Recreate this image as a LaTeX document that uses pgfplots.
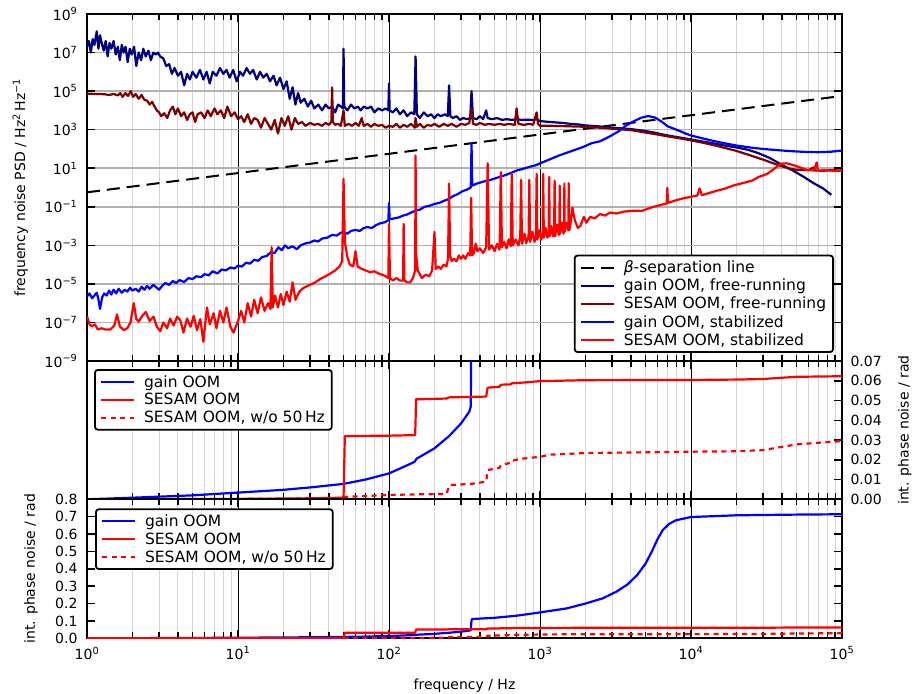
\documentclass[border=0pt]{standalone}
\usepackage{fontspec}
\setmainfont{DejaVu Sans}
\usepackage{pgfplots}
\usepackage{pgfplotstable}
\pgfplotsset{compat=1.18}

\definecolor{navyc}{RGB}{0,0,128}
\definecolor{maroonc}{RGB}{128,0,0}
\definecolor{gridminor}{RGB}{214,214,214}
\definecolor{gridy}{RGB}{176,176,176}
\newcommand{\tkf}{\fontsize{14bp}{16bp}\selectfont}
\newcommand{\lgf}{\fontsize{15.5bp}{18bp}\selectfont}

\pgfplotstableread{
f v
1 0.0
2 0.0008
5 0.002
10 0.0034
20 0.0048
30 0.006
50 0.0078
70 0.010
100 0.0131
130 0.017
148 0.019
152 0.0205
200 0.0258
250 0.032
300 0.0384
340 0.0443
348 0.047
352 0.105
356 0.111
500 0.118
700 0.13
1000 0.149
1500 0.172
2000 0.20
2600 0.23
3200 0.268
3800 0.31
4400 0.364
5000 0.43
5500 0.499
6000 0.57
6500 0.623
7200 0.66
8000 0.68
10000 0.698
20000 0.708
50000 0.712
100000 0.714
}\gainint

\pgfplotstableread{
f v
1 0.0
10 0.0002
30 0.0005
49 0.0008
50 0.0012
51 0.032
100 0.0322
149 0.0325
150 0.040
151 0.0506
240 0.051
250 0.0516
440 0.052
450 0.0565
540 0.057
550 0.058
640 0.0582
650 0.0587
750 0.059
1000 0.0598
2000 0.0603
10000 0.0604
20000 0.0606
30000 0.0609
50000 0.062
100000 0.0623
}\sesamint

\pgfplotstableread{
f v
1 0.0
10 0.0002
49 0.0005
51 0.0012
100 0.0022
150 0.0025
240 0.0027
252 0.0072
350 0.0078
440 0.0089
450 0.0148
540 0.016
550 0.0173
640 0.0185
650 0.0195
750 0.0205
1000 0.0215
1170 0.0226
2000 0.0234
10000 0.0241
20000 0.0243
30000 0.0249
50000 0.0278
100000 0.0295
}\sesamintwo

\begin{document}
\begin{tikzpicture}
\useasboundingbox (0,0) rectangle (912bp,-694bp);

% ---------------- top panel ----------------
\begin{axis}[
  scale only axis, width=755bp, height=347bp,
  at={(87bp,-14bp)}, anchor=north west,
  xmode=log, xmin=1, xmax=100000,
  xtick={1,10,100,1000,10000,100000},
  minor xtick={2,3,4,5,6,7,8,9,20,30,40,50,60,70,80,90,200,300,400,500,600,700,800,900,2000,3000,4000,5000,6000,7000,8000,9000,20000,30000,40000,50000,60000,70000,80000,90000},
  xticklabels={},
  xmajorgrids=true, xminorgrids=true,
  major x grid style={black, line width=0.9bp},
  minor x grid style={gridminor, line width=1bp},
  axis line style={line width=2bp},
  tick align=inside,
  major tick length=8bp, minor tick length=6bp,
  major tick style={black, line width=1.5bp},
  minor tick style={black, line width=1.2bp},
  tick label style={font=\tkf},
  yticklabel style={xshift=-6bp},
  ymode=log, ymin=1e-9, ymax=1e9,
  ytick={1e-9,1e-7,1e-5,1e-3,1e-1,1e1,1e3,1e5,1e7,1e9},
  yticklabels={10\textsuperscript{−9},10\textsuperscript{−7},10\textsuperscript{−5},10\textsuperscript{−3},10\textsuperscript{−1},10\textsuperscript{1},10\textsuperscript{3},10\textsuperscript{5},10\textsuperscript{7},10\textsuperscript{9}},
  yminorticks=false,
  ymajorgrids=true,
  major y grid style={gridy, line width=1.5bp},
  ylabel={frequency noise PSD / Hz\textsuperscript{2}\,Hz\textsuperscript{−1}},
  ylabel style={font=\tkf, at={(axis description cs:-0.0821,0.5)}, anchor=base},
  legend cell align=left,
  legend image code/.code={\draw[#1] (0bp,0bp) -- (33bp,0bp); \path (40bp,0bp);},
  legend style={font=\lgf, draw=black, line width=1.8bp, rounded corners=3bp,
      inner xsep=5bp, inner ysep=3.5bp, row sep=0.8bp,
      at={(0.9894,0.0231)}, anchor=south east},
]
\addplot[black, line width=2bp, dash pattern=on 13bp off 7bp] coordinates {(1,0.5618) (100000,56180)};
\addlegendentry{\textit{β}-separation line}

\addplot[navyc, line width=2.2bp, line join=round] coordinates {
(1,2e7) (1.03,4e7) (1.06,1e7) (1.09,5e7) (1.12,2.5e7) (1.16,1.26e8) (1.19,1.58e7) (1.22,7.9e7) (1.25,3.2e7) (1.29,1.26e7)
(1.33,4e7) (1.37,6.3e6) (1.41,3.2e7) (1.45,1.58e7) (1.5,4e7) (1.55,7.9e6) (1.6,2e7) (1.65,4e6) (1.7,2.5e7) (1.75,1e7)
(1.8,2e7) (1.86,3.2e6) (1.92,1.58e7) (1.98,7.9e6) (2.05,2e7) (2.12,2e6) (2.2,1e7) (2.28,4e6) (2.36,1.58e7) (2.45,6.3e6)
(2.55,1.26e7) (2.65,4e6) (2.75,1e7) (2.85,7.9e6) (2.95,1e7) (3.05,6.3e6) (3.2,5e6) (3.35,2e6) (3.5,2.5e6) (3.65,7.9e5)
(3.8,1.58e6) (4.0,6.3e5) (4.2,1e6) (4.4,2e5) (4.6,7.9e5) (4.8,4e5) (5.0,1e6) (5.3,5e5) (5.6,1.26e6) (5.9,4e5)
(6.2,1e6) (6.5,2.5e5) (6.8,1e6) (7.2,6.3e5) (7.6,1.58e6) (8.0,7.9e5) (8.4,1.26e6) (8.8,5e5) (9.3,1.26e6) (9.8,3.2e5)
(10.3,1e6) (10.8,6.3e5) (11.4,1.58e6) (12,7.9e5) (12.6,1.26e6) (13.3,4e5) (14,1e6) (14.7,5e5) (15.5,7.9e5) (16.3,3.2e5)
(17.2,6.3e5) (18,2e5) (19,5e5) (20,1.26e5) (21,3.2e5) (22,4e4) (23,1.58e5) (24,2e4) (25,7.9e4) (26,2.5e4)
(27.5,4e4) (29,1.58e4) (30.5,3.2e4) (32,1.26e4) (34,2e4) (36,1e4) (38,2e4) (40,1.26e4) (42,1.58e4) (44,7.9e3)
(46,2e4) (48,1.58e4) (49.5,1.26e4) (50,1.58e7) (50.5,1.58e4) (53,1e4) (56,2e4) (59,1.26e4) (62,1.58e4) (65,1e4)
(68,1.58e4) (72,1.26e4) (76,1.58e4) (80,7.9e3) (85,1.26e4) (90,1e4) (95,1.26e4) (99,1e4) (100,2.5e5) (101,1e4)
(106,7.9e3) (112,1.26e4) (118,6.3e3) (125,1e4) (132,5e3) (140,7.9e3) (147,6.3e3) (150,6.3e6) (153,6.3e3) (160,4e3)
(170,7.9e3) (180,5e3) (190,6.3e3) (200,4e3) (210,6.3e3) (220,5e3) (235,6.3e3) (245,5e3) (250,2e5) (255,5e3)
(265,4e3) (280,5e3) (295,3.2e3) (310,4e3) (330,3.5e3) (345,4e3) (352,1e5) (360,4e3) (380,3.5e3) (400,5e3)
(420,3.5e3) (440,1e4) (450,4e3) (480,3.5e3) (520,4e3) (560,3.2e3) (600,3.5e3) (650,3.2e3) (700,3.5e3) (760,3.2e3)
(820,3.3e3) (900,3.2e3) (950,3.5e3) (1000,2.8e3) (1100,2.6e3) (1250,2.4e3) (1400,2.24e3) (1600,2e3) (1800,1.86e3) (2000,1.66e3)
(2400,1.51e3) (2800,1.32e3) (3300,1.2e3) (4000,1.07e3) (4800,8.9e2) (5700,7.1e2) (6800,5.2e2) (8000,4.2e2) (9800,3.2e2) (12000,2.4e2)
(14500,1.86e2) (17000,1.48e2) (20000,1.2e2) (24000,89) (28000,60) (33000,35) (40000,15) (48000,7.1) (56000,3.5) (65000,1.66)
(75000,0.89) (85000,0.42)
};
\addlegendentry{gain OOM, free-running}

\addplot[maroonc, line width=2.2bp, line join=round] coordinates {
(1,7.4e4) (1.1,7.2e4) (1.2,7.1e4) (1.3,6.9e4) (1.4,6.3e4) (1.5,7.1e4) (1.6,6e4) (1.66,7.9e4) (1.72,5e4) (1.8,7.9e4)
(1.87,5.6e4) (1.95,1e5) (2.02,5e4) (2.1,7.1e4) (2.2,4e4) (2.3,6.3e4) (2.4,3.5e4) (2.5,3.2e4) (2.6,2e4) (2.7,2.8e4)
(2.8,1.58e4) (2.9,1e4) (3.0,7.9e3) (3.1,5e3) (3.25,7.1e3) (3.4,4e3) (3.55,1e4) (3.7,1.58e4) (3.85,6.3e3) (4.0,1.26e4)
(4.2,5e3) (4.4,7.9e3) (4.6,3.2e3) (4.8,6.3e3) (5.0,7.9e3) (5.2,2.5e3) (5.4,6.3e3) (5.7,7.9e3) (6.0,4e3) (6.3,1e4)
(6.6,5e3) (7.0,1.26e4) (7.3,6.3e3) (7.7,1e4) (8.1,4e3) (8.5,1.58e4) (9.0,5e3) (9.5,7.9e3) (10,3.5e3) (10.5,5e3)
(11,2.5e3) (11.6,6.3e3) (12.2,2e3) (12.8,4e3) (13.5,3.2e3) (14.2,1.26e3) (15,4e3) (15.8,2e3) (16.6,1e3) (17.5,3.2e3)
(18.4,6.3e2) (19.4,4e3) (20.4,1.58e3) (21.5,5e3) (22.6,1e3) (23.8,4e3) (25,2e3) (26.5,2.5e3) (28,1.58e3) (30,2.24e3)
(32,1.78e3) (34,2e3) (36,1.58e3) (38,2.24e3) (40,1.78e3) (41.5,2.5e3) (42,1.58e5) (42.5,2.5e3) (44,1.78e3) (46,2e3)
(48,1.58e3) (50,1e4) (51,1.58e3) (54,2e3) (57,1.58e3) (60,2.24e3) (63,1.58e3) (66,4e3) (68,1.58e3) (72,2e3)
(76,1.41e3) (80,2e3) (85,1.58e3) (90,1.78e3) (95,1.26e3) (100,1.58e3) (106,1.41e3) (112,2e3) (118,1.26e3) (125,1.78e3)
(132,1.41e3) (140,2e3) (148,1.26e3) (150,4e3) (153,1.41e3) (160,2e3) (170,1.26e3) (180,1.78e3) (190,1.58e3) (200,2e3)
(215,1.41e3) (230,2e3) (245,1.58e3) (260,2e3) (280,1.41e3) (300,2e3) (320,1.78e3) (340,2.24e3) (352,1.26e4) (360,2e3)
(380,1.78e3) (400,2.24e3) (430,1.78e3) (460,2e3) (500,1.78e3) (540,2e3) (580,1.78e3) (620,2e3) (680,1.78e3) (700,1.26e4)
(720,2e3) (780,1.78e3) (850,2e3) (900,1.78e3) (950,7.9e3) (970,2e3) (1000,1.58e3) (1200,1.58e3) (1500,1.51e3) (2000,1.41e3)
(2500,1.26e3) (3000,1.12e3) (4000,9.5e2) (5000,7.1e2) (6000,5.6e2) (7000,4.5e2) (8000,3.8e2) (10000,2.8e2) (12000,2.1e2) (15000,1.41e2)
(20000,79) (25000,45) (30000,28) (35000,18) (40000,12.6) (45000,9.5) (50000,8.3) (60000,7.9) (65000,11) (66000,7.6)
(75000,7.4) (85000,7.9) (100000,7.6)
};
\addlegendentry{SESAM OOM, free-running}

\addplot[blue, line width=2.2bp, line join=round] coordinates {
(1,2.24e-6) (1.04,3.2e-6) (1.08,1.78e-6) (1.12,2.5e-6) (1.16,3.5e-6) (1.19,1.58e-6) (1.22,5e-7) (1.26,2e-6) (1.3,3.2e-6) (1.35,2.5e-6)
(1.4,4.5e-6) (1.45,2.8e-6) (1.5,5e-6) (1.56,3.2e-6) (1.62,5.6e-6) (1.7,3.5e-6) (1.78,5e-6) (1.85,4e-6) (1.93,6.3e-6) (2.0,4.5e-6)
(2.1,5.6e-6) (2.2,4e-6) (2.3,7.1e-6) (2.4,5e-6) (2.5,7.9e-6) (2.6,5.6e-6) (2.75,8.9e-6) (2.9,6.3e-6) (3.0,5e-6) (3.15,7.9e-6)
(3.3,1.12e-5) (3.5,8.9e-6) (3.7,1.41e-5) (3.9,1.12e-5) (4.1,1.58e-5) (4.4,1.26e-5) (4.7,2e-5) (5.0,1.78e-5) (5.3,2.5e-5) (5.7,2.24e-5)
(6.0,3.2e-5) (6.4,2.8e-5) (6.8,4.5e-5) (7.3,3.5e-5) (7.8,5.6e-5) (8.3,5e-5) (8.9,7.1e-5) (9.5,6.3e-5) (10,8.9e-5) (10.6,7.9e-5)
(11.3,1.26e-4) (12,1.12e-4) (12.8,1.78e-4) (13.6,1.58e-4) (14.5,2.5e-4) (15.5,2.8e-4) (16.5,4.5e-4) (17.5,4e-4) (18.5,7.9e-4) (19.5,5.6e-4)
(20.5,1e-3) (21.5,7.1e-4) (23,8.9e-4) (24.5,6.3e-4) (26,1e-3) (28,1.26e-3) (30,1.41e-3) (32,1.78e-3) (34,1.58e-3) (36,2.24e-3)
(39,2.5e-3) (42,3.5e-3) (45,3.2e-3) (48,4.5e-3) (50,5e-3) (53,4e-3) (56,5.6e-3) (60,6.3e-3) (64,5.6e-3) (68,7.9e-3)
(72,8.9e-3) (77,7.9e-3) (82,1.12e-2) (88,1.41e-2) (94,1.58e-2) (99,2e-2) (100,0.158) (101,2.24e-2) (108,2.5e-2) (116,2.8e-2)
(124,3.5e-2) (132,4e-2) (140,5e-2) (150,6.3e-2) (160,7.1e-2) (172,0.1) (185,0.112) (200,0.141) (215,0.158) (230,0.2)
(248,0.25) (265,0.355) (285,0.45) (305,0.63) (330,0.79) (348,1.0) (352,200) (356,1.26) (380,1.58) (420,2.0)
(470,2.5) (520,3.2) (580,4.2) (640,5.6) (700,7.6) (780,9.5) (860,12) (930,14) (1000,17.8) (1150,28)
(1300,42) (1500,63) (1700,89) (1930,126) (2200,200) (2500,250) (2900,450) (3300,800) (3700,1.6e3) (4200,2.8e3)
(4700,4.2e3) (5200,5.1e3) (5800,4.2e3) (6400,2.6e3) (7000,1.5e3) (7700,1.12e3) (8500,8.3e2) (9200,6.3e2) (10000,5e2) (11500,3.8e2)
(13500,2.8e2) (16000,2.1e2) (20000,1.5e2) (25000,1.17e2) (30000,1e2) (40000,83) (50000,74) (60000,69) (70000,68) (85000,72)
(100000,83)
};
\addlegendentry{gain OOM, stabilized}

\addplot[red, line width=2.2bp, line join=round] coordinates {
(1,2.1e-7) (1.04,7.9e-8) (1.08,6.3e-8) (1.13,7.9e-8) (1.18,4.3e-8) (1.25,5e-8) (1.32,4.3e-8) (1.43,4.3e-8) (1.52,7.1e-8) (1.58,2.6e-7)
(1.65,6.3e-8) (1.75,4e-8) (1.85,5e-8) (1.94,1e-7) (2.04,1e-6) (2.12,1.5e-7) (2.2,1.1e-7) (2.3,2e-7) (2.45,3.5e-7) (2.6,1.2e-7)
(2.76,2e-7) (2.9,6e-8) (3.06,3.5e-8) (3.2,1e-7) (3.39,5e-8) (3.55,1.6e-7) (3.75,7e-8) (3.95,2e-7) (4.15,1.3e-7) (4.35,3e-8)
(4.6,1.6e-7) (4.85,6e-8) (5.09,2.2e-7) (5.35,4e-8) (5.63,1.5e-7) (5.9,1e-8) (6.23,6e-7) (6.5,8e-8) (6.9,3e-7) (7.2,5e-8)
(7.6,4e-7) (8.0,1e-7) (8.4,6e-7) (8.9,6e-8) (9.35,3e-8) (10,1.2e-7) (10.5,4e-7) (11,1e-7) (11.6,1e-6) (12.2,2e-7)
(12.8,1.5e-6) (13.5,3e-7) (14.2,2e-6) (15,4e-7) (15.8,1e-6) (16.4,5e-7) (16.7,8e-4) (17.0,6e-7) (17.6,2.5e-6) (18.4,6e-7)
(19.2,3e-6) (20,8e-7) (21,4e-6) (22,1.2e-6) (23,1.2e-5) (24,1.5e-6) (25.5,4e-6) (27,6e-6) (29,8e-6) (31,1e-5)
(33,1.3e-5) (35,1.8e-5) (38,2.5e-5) (41,3.5e-5) (44,5e-5) (47,8e-5) (49,1.5e-4) (50,2.8) (51,1.5e-3) (53,2.5e-4)
(55,1e-4) (58,8e-5) (60,5e-4) (62,8e-5) (66,6e-5) (70,5e-5) (75,4e-5) (80,4.5e-5) (85,3.5e-5) (90,3e-5)
(95,2.5e-5) (99,2e-5) (100,1.3e-2) (101.5,2e-5) (106,1.5e-5) (112,2e-5) (118,1.5e-5) (124,1.5e-5) (125,1.3e-2) (126.5,1.5e-5)
(132,1.2e-5) (138,1.2e-5) (144,2e-5) (149,5e-5) (150,46) (151,4e-4) (155,5e-5) (165,2e-5) (175,3e-5) (185,2.5e-5)
(193,5e-5) (200,5e-3) (204,6e-5) (212,8e-5) (220,6e-5) (230,1e-4) (240,8e-5) (246,2e-4) (250,1.6) (254,3e-4)
(260,1.5e-4) (270,2e-4) (280,1.5e-4) (290,3e-4) (300,2e-4) (310,3e-4) (320,2e-4) (335,4e-4) (345,3e-4) (350,0.29)
(355,3e-4) (365,4e-4) (375,1.2e-3) (385,5e-4) (400,7e-4) (420,4e-4) (440,8e-4) (450,18) (460,6e-4) (480,1e-3)
(500,5e-4) (520,1.2e-3) (540,6e-4) (550,6.3) (560,8e-4) (580,1.5e-3) (600,7e-4) (620,2e-3) (640,9e-4) (650,5.1)
(660,1e-3) (690,2e-3) (720,1e-3) (740,3e-3) (750,2.5) (760,1.2e-3) (790,4e-3) (810,1.3e-3) (840,3e-3) (850,2.5)
(860,1.5e-3) (890,5e-3) (920,1.5e-3) (940,3e-3) (950,5.1) (960,2e-3) (990,6e-3) (1020,2e-3) (1040,4e-3) (1050,5.1)
(1060,2.5e-3) (1090,8e-3) (1120,2.5e-3) (1140,4e-3) (1150,3.5) (1160,3e-3) (1190,1e-2) (1220,3e-3) (1240,5e-3) (1250,2.3)
(1260,3e-3) (1300,1.2e-2) (1330,3.5e-3) (1345,5e-3) (1350,1.26) (1360,4e-3) (1400,1.5e-2) (1430,4e-3) (1445,6e-3) (1450,1.6)
(1455,5e-3) (1500,1.5e-2) (1540,6e-3) (1550,1.66) (1560,6e-3) (1580,8e-3) (1640,9e-2) (1700,2e-2) (1780,8e-3) (1850,1e-2)
(1950,3e-2) (2030,1.5e-2) (2150,3e-2) (2300,2.5e-2) (2500,4.2e-2) (2700,3.5e-2) (2900,5e-2) (3200,4.5e-2) (3600,5.6e-2) (4200,6.3e-2)
(4800,6.3e-2) (5400,9e-2) (6200,0.12) (6900,0.15) (6970,0.95) (7050,0.16) (8000,0.22) (9000,0.28) (9800,0.32) (11000,0.38)
(11400,0.9) (11800,0.4) (13000,0.5) (15000,0.7) (17000,0.9) (19000,1.26) (22000,1.7) (25500,2.3) (28000,3.5) (32000,5.1)
(36000,10) (39000,17) (43000,18) (47000,15) (52000,11.5) (58000,8.3) (65000,7.6) (68000,20) (69000,7.6) (80000,7.9)
(90000,7.2) (97000,7.6) (100000,7.6)
};
\addlegendentry{SESAM OOM, stabilized}
\end{axis}

% ---------------- middle panel ----------------
\begin{axis}[
  scale only axis, width=755bp, height=138.3bp,
  at={(87bp,-361bp)}, anchor=north west,
  xmode=log, xmin=1, xmax=100000,
  xtick={1,10,100,1000,10000,100000},
  minor xtick={2,3,4,5,6,7,8,9,20,30,40,50,60,70,80,90,200,300,400,500,600,700,800,900,2000,3000,4000,5000,6000,7000,8000,9000,20000,30000,40000,50000,60000,70000,80000,90000},
  xticklabels={},
  xmajorgrids=true, xminorgrids=true,
  major x grid style={black, line width=0.9bp},
  minor x grid style={gridminor, line width=1bp},
  axis line style={line width=2bp},
  tick align=inside,
  major tick length=8bp, minor tick length=6bp,
  major tick style={black, line width=1.5bp},
  minor tick style={black, line width=1.2bp},
  tick label style={font=\tkf},
  yticklabel style={xshift=5bp},
  ymin=0, ymax=0.07,
  scaled y ticks=false,
  ytick={0,0.01,0.02,0.03,0.04,0.05,0.06,0.07},
  yticklabels={0.00,0.01,0.02,0.03,0.04,0.05,0.06,0.07},
  ytick pos=right, yticklabel pos=right,
  ylabel={int. phase noise / rad},
  ylabel style={font=\tkf, at={(axis description cs:1.0881,0.5)}, anchor=base},
  legend cell align=left,
  legend image code/.code={\draw[#1] (0bp,0bp) -- (33bp,0bp); \path (40bp,0bp);},
  legend style={font=\lgf, draw=black, line width=1.8bp, rounded corners=3bp,
      inner xsep=5bp, inner ysep=3.5bp, row sep=0.8bp,
      at={(0.0093,0.942)}, anchor=north west},
]
\addplot[blue, line width=2.2bp, line join=round] table[x=f, y=v] {\gainint};
\addlegendentry{gain OOM}
\addplot[red, line width=2.2bp, line join=round] table[x=f, y=v] {\sesamint};
\addlegendentry{SESAM OOM}
\addplot[red, line width=2.2bp, dash pattern=on 5bp off 4.5bp] table[x=f, y=v] {\sesamintwo};
\addlegendentry{SESAM OOM, w/o 50\,Hz}
\end{axis}

% ---------------- bottom panel ----------------
\begin{axis}[
  scale only axis, width=755bp, height=139bp,
  at={(87bp,-499.3bp)}, anchor=north west,
  xmode=log, xmin=1, xmax=100000,
  xtick={1,10,100,1000,10000,100000},
  minor xtick={2,3,4,5,6,7,8,9,20,30,40,50,60,70,80,90,200,300,400,500,600,700,800,900,2000,3000,4000,5000,6000,7000,8000,9000,20000,30000,40000,50000,60000,70000,80000,90000},
  xticklabels={10\textsuperscript{0},10\textsuperscript{1},10\textsuperscript{2},10\textsuperscript{3},10\textsuperscript{4},10\textsuperscript{5}},
  xticklabel style={yshift=-5bp},
  xmajorgrids=true, xminorgrids=true,
  major x grid style={black, line width=0.9bp},
  minor x grid style={gridminor, line width=1bp},
  axis line style={line width=2bp},
  tick align=inside,
  major tick length=8bp, minor tick length=6bp,
  major tick style={black, line width=1.5bp},
  minor tick style={black, line width=1.2bp},
  tick label style={font=\tkf},
  yticklabel style={xshift=-6bp},
  ymin=0, ymax=0.8,
  scaled y ticks=false,
  ytick={0,0.1,0.2,0.3,0.4,0.5,0.6,0.7,0.8},
  yticklabels={0.0,0.1,0.2,0.3,0.4,0.5,0.6,0.7,0.8},
  ytick pos=both, yticklabel pos=left,
  ylabel={int. phase noise / rad},
  ylabel style={font=\tkf, at={(axis description cs:-0.0689,0.5)}, anchor=base},
  xlabel={frequency / Hz},
  xlabel style={font=\tkf, at={(axis description cs:0.5,-0.365)}, anchor=base},
  legend cell align=left,
  legend image code/.code={\draw[#1] (0bp,0bp) -- (33bp,0bp); \path (40bp,0bp);},
  legend style={font=\lgf, draw=black, line width=1.8bp, rounded corners=3bp,
      inner xsep=5bp, inner ysep=3.5bp, row sep=0.8bp,
      at={(0.0106,0.935)}, anchor=north west},
]
\addplot[blue, line width=2.2bp, line join=round] table[x=f, y=v] {\gainint};
\addlegendentry{gain OOM}
\addplot[red, line width=2.2bp, line join=round] table[x=f, y=v] {\sesamint};
\addlegendentry{SESAM OOM}
\addplot[red, line width=2.2bp, dash pattern=on 5bp off 4.5bp] table[x=f, y=v] {\sesamintwo};
\addlegendentry{SESAM OOM, w/o 50\,Hz}
\end{axis}
\end{tikzpicture}
\end{document}
